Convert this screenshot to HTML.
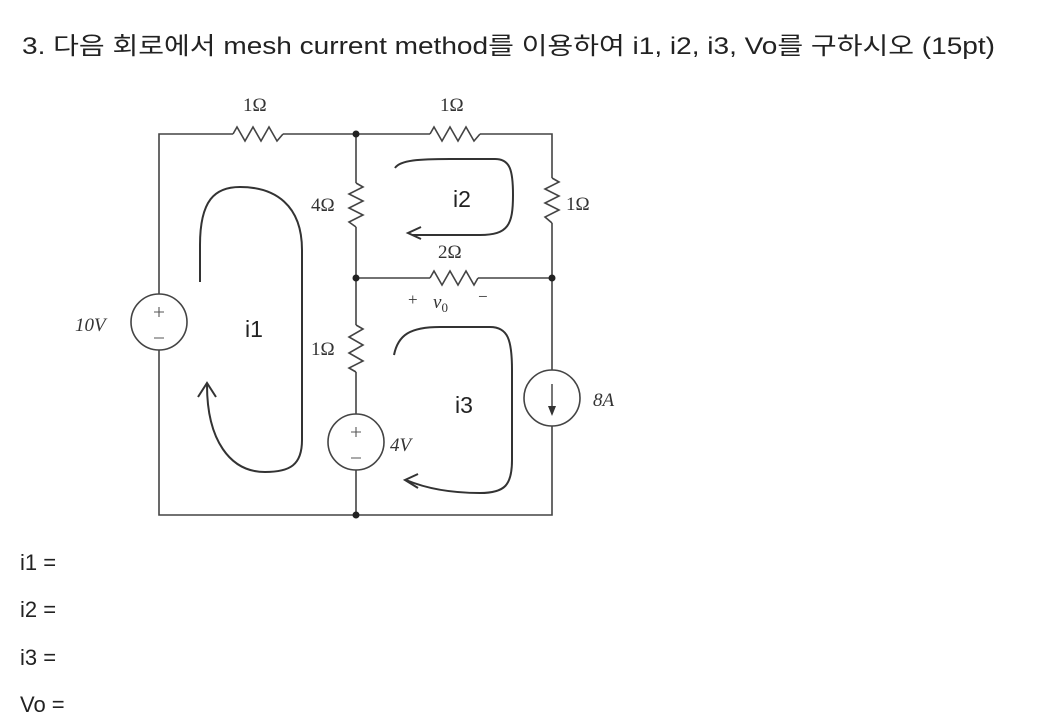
<!DOCTYPE html>
<html><head><meta charset="utf-8"><style>
html,body{margin:0;padding:0;background:#fff;width:1040px;height:728px;overflow:hidden}
svg{display:block}
.t{font-family:"Liberation Sans","Noto Sans CJK KR",sans-serif;fill:#222}
.s{font-family:"Liberation Serif",serif;fill:#333}
</style></head><body>
<svg width="1040" height="728" viewBox="0 0 1040 728">
<text class="t" x="22" y="54" font-size="24" textLength="973" lengthAdjust="spacingAndGlyphs">3. 다음 회로에서 mesh current method를 이용하여 i1, i2, i3, Vo를 구하시오 (15pt)</text>
<g stroke="#444" stroke-width="1.6" fill="none">
<path d="M159 294 V134 H233 M283 134 H430 M480 134 H552 V178 M552 223 V370 M552 426 V515 H159 V350"/>
<path d="M356 134 V183 M356 227 V325 M356 372 V414 M356 470 V515 M356 278 H430 M478 278 H552"/>
<polyline points="233,134 237,127 245,141 253,127 261,141 269,127 277,141 283,134"/>
<polyline points="430,134 434,127 442,141 450,127 458,141 466,127 474,141 480,134"/>
<polyline points="430,278 434,271 442,285 450,271 458,285 466,271 474,285 478,278"/>
<polyline points="356,183 363,187 349,194 363,201 349,208 363,215 349,222 356,227"/>
<polyline points="552,178 559,182 545,189 559,196 545,203 559,210 545,217 552,223"/>
<polyline points="356,325 363,329 349,337 363,345 349,353 363,361 349,368 356,372"/>
<circle cx="159" cy="322" r="28"/>
<circle cx="356" cy="442" r="28"/>
<circle cx="552" cy="398" r="28"/>
</g>
<g stroke="#555" stroke-width="1.1" fill="none">
<path d="M159 307 V317 M154 312 H164 M154 338 H164"/>
<path d="M356 427 V437 M351 432 H361 M351 458 H361"/>
<path d="M552 384 V410" stroke-width="1.6"/>
</g>
<path d="M548 406 L552 416 L556 406 Z" fill="#333"/>
<g fill="#222"><circle cx="356" cy="134" r="3.5"/><circle cx="356" cy="278" r="3.5"/><circle cx="552" cy="278" r="3.5"/><circle cx="356" cy="515" r="3.5"/></g>
<g stroke="#333" stroke-width="2" fill="none">
<path d="M200 282 V245 C200 200 215 187 240 187 C275 187 302 205 302 250 V440 C302 465 290 472 265 472 C230 472 207 440 207 385"/>
<path d="M198 397 L207 383 L216 397"/>
<path d="M395 168 C400 160 420 159 450 159 H495 C510 159 513 170 513 195 C513 225 508 235 480 235 H412"/>
<path d="M421 227 L408 233 L421 239"/>
<path d="M394 355 C398 335 410 327 440 327 H490 C508 327 512 340 512 370 V460 C512 485 505 493 480 493 C450 493 425 488 406 480"/>
<path d="M418 474 L405 480 L418 488"/>
</g>
<g class="s" font-size="19">
<text x="243" y="111">1Ω</text>
<text x="440" y="111">1Ω</text>
<text x="311" y="211">4Ω</text>
<text x="566" y="210">1Ω</text>
<text x="438" y="258">2Ω</text>
<text x="311" y="355">1Ω</text>
<text x="75" y="331" font-style="italic">10V</text>
<text x="390" y="451" font-style="italic">4V</text>
<text x="593" y="406" font-style="italic">8A</text>
<text x="408" y="305" font-size="17">+</text>
<text x="433" y="308" font-style="italic">v<tspan font-size="13" dy="4" font-style="normal">0</tspan></text>
<text x="478" y="302" font-size="17">−</text>
</g>
<g class="t" font-size="23">
<text x="453" y="207">i2</text>
<text x="245" y="337">i1</text>
<text x="455" y="413">i3</text>
<text x="20" y="570" font-size="22">i1 =</text>
<text x="20" y="617" font-size="22">i2 =</text>
<text x="20" y="665" font-size="22">i3 =</text>
<text x="20" y="712" font-size="22">Vo =</text>
</g>
</svg>
</body></html>
